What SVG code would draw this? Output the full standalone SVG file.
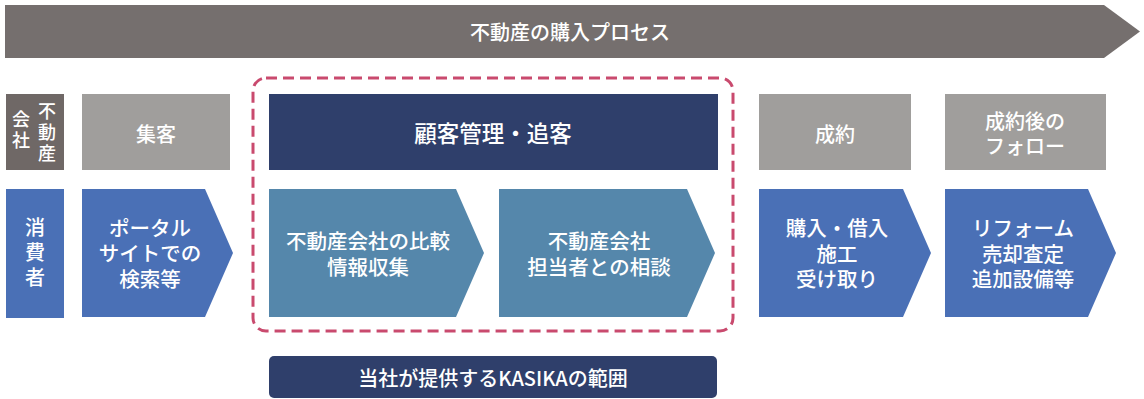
<svg xmlns="http://www.w3.org/2000/svg" width="1144" height="399" viewBox="0 0 1144 399">
<style>
text{font-family:"Noto Sans CJK JP","Noto Sans",sans-serif;fill:#fff;text-anchor:middle;dominant-baseline:central;font-weight:500}
.gray{fill:#a09e9c}
.dark{fill:#6f6866}
.navy{fill:#2f3f6b}
.steel{fill:#5587ab}
.blue{fill:#4a70b6}
.t20{font-size:20.5px}
.vt{writing-mode:vertical-rl}
</style>
<rect width="1144" height="399" fill="#fff"/>
<g id="banner">
<polygon points="5,5 1104,5 1140,31.5 1104,58 5,58" fill="#756f6e"/>
<text x="570" y="31.5" style="font-size:20px">不動産の購入プロセス</text>
</g>
<g id="scope">
<rect x="253" y="78" width="480" height="253" rx="13" fill="none" stroke="#c94a6e" stroke-width="3" stroke-dasharray="11 6"/>
</g>
<g id="label-company">
<rect class="dark" x="6" y="94" width="58" height="76"/>
<text class="vt" x="47" y="134" style="font-size:18px;letter-spacing:3px">不動産</text>
<text class="vt" x="21" y="131" style="font-size:18px;letter-spacing:3px">会社</text>
</g>
<g id="label-consumer">
<rect class="blue" x="6" y="189" width="58" height="129"/>
<text class="vt" x="35" y="255" style="font-size:20px;letter-spacing:5px">消費者</text>
</g>
<g id="stage-attract">
<rect class="gray" x="82" y="94" width="148" height="76"/>
<text x="156" y="133" style="font-size:20px">集客</text>
</g>
<g id="stage-crm">
<rect class="navy" x="269" y="94" width="449" height="76"/>
<text x="493" y="132" style="font-size:22.5px">顧客管理・追客</text>
</g>
<g id="stage-contract">
<rect class="gray" x="759" y="94" width="152" height="76"/>
<text x="835" y="133" style="font-size:20px">成約</text>
</g>
<g id="stage-follow">
<rect class="gray" x="945" y="94" width="161" height="76"/>
<text x="1025" y="120" style="font-size:20px"><tspan x="1025" y="120">成約後の</tspan><tspan x="1025" y="145">フォロー</tspan></text>
</g>
<g id="step-portal">
<polygon class="blue" points="82,189 205,189 233,253 205,317 82,317"/>
<text class="t20"><tspan x="150" y="227">ポータル</tspan><tspan x="150" y="252">サイトでの</tspan><tspan x="150" y="278">検索等</tspan></text>
</g>
<g id="step-compare">
<polygon class="steel" points="269,189 456,189 484,253 456,317 269,317"/>
<text class="t20"><tspan x="368" y="240">不動産会社の比較</tspan><tspan x="368" y="266">情報収集</tspan></text>
</g>
<g id="step-consult">
<polygon class="steel" points="499,189 687,189 715,253 687,317 499,317"/>
<text class="t20"><tspan x="599" y="240">不動産会社</tspan><tspan x="599" y="266">担当者との相談</tspan></text>
</g>
<g id="step-purchase">
<polygon class="blue" points="759,189 903,189 931,253 903,317 759,317"/>
<text class="t20"><tspan x="837" y="227">購入・借入</tspan><tspan x="837" y="253">施工</tspan><tspan x="837" y="278">受け取り</tspan></text>
</g>
<g id="step-reform">
<polygon class="blue" points="945,189 1088,189 1116,253 1088,317 945,317"/>
<text class="t20"><tspan x="1023" y="227">リフォーム</tspan><tspan x="1023" y="253">売却査定</tspan><tspan x="1023" y="278">追加設備等</tspan></text>
</g>
<g id="kasika-scope">
<rect class="navy" x="269" y="356" width="448" height="42" rx="5"/>
<text x="493" y="377" style="font-size:20px">当社が提供するKASIKAの範囲</text>
</g>
<g id="connectors"></g>
</svg>
